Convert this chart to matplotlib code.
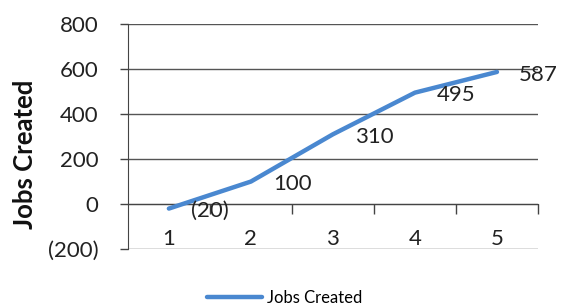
import matplotlib
matplotlib.use("Agg")
import matplotlib.pyplot as plt
from matplotlib.ticker import FuncFormatter, FixedLocator

categories = ["1", "2", "3", "4", "5"]
jobs_created = [-20, 100, 310, 495, 587]
data_labels = ["(20)", "100", "310", "495", "587"]
y_ticks = [-200, 0, 200, 400, 600, 800]

plt.rcParams['font.family'] = ['Lato', 'DejaVu Sans']

fig = plt.figure(figsize=(5.76, 3.06), dpi=100)
ax = fig.add_axes([0.222, 0.186, 0.712, 0.7356])

xs = list(range(1, len(categories) + 1))
line_color = '#4A88D0'
ax.plot(xs, jobs_created, color=line_color, lw=3.2, solid_capstyle='round',
        solid_joinstyle='round', label='Jobs Created', zorder=3)

for x, v, lab in zip(xs, jobs_created, data_labels):
    ax.annotate(lab, (x, v), xytext=(16, -2), textcoords='offset points',
                ha='left', va='center', fontsize=16, color='#222222')

ax.set_xlim(0.5, len(categories) + 0.5)
ax.set_ylim(-200, 800)
ax.yaxis.set_major_locator(FixedLocator(y_ticks))
ax.yaxis.set_major_formatter(FuncFormatter(
    lambda v, p: f"({abs(int(v))})" if v < 0 else f"{int(v)}"))
ax.tick_params(axis='y', length=6, width=1, color='#444444', labelsize=16,
               labelcolor='#222222', pad=15)
ax.grid(axis='y', color='#555555', lw=1)
ax.set_axisbelow(True)

for s in ['top', 'right']:
    ax.spines[s].set_visible(False)
ax.spines['left'].set_color('#444444')
ax.spines['bottom'].set_position(('data', 0))
ax.spines['bottom'].set_color('#444444')
ax.xaxis.set_major_locator(FixedLocator([x + 0.5 for x in xs]))
ax.set_xticklabels([])
ax.tick_params(axis='x', length=7, width=1, color='#444444', direction='out')

for x, c in zip(xs, categories):
    ax.text(x, -155, c, ha='center', va='center', fontsize=16, color='#222222')

ax.set_ylabel('Jobs Created', fontsize=18.5, fontweight='bold', color='#111111')
ax.yaxis.set_label_coords(-0.222, 0.42)

fig.legend(loc='center', bbox_to_anchor=(0.495, 0.026), frameon=False,
           fontsize=12, handlelength=3.3, handletextpad=0.3)

fig.savefig('out.png', dpi=100)
